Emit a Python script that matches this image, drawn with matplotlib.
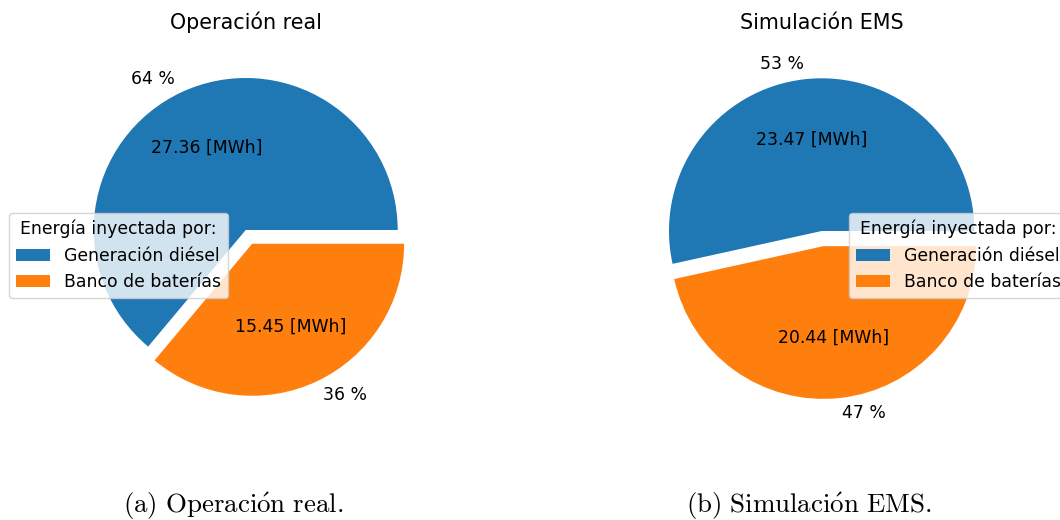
import matplotlib
matplotlib.use("Agg")
import matplotlib.pyplot as plt

# Energy injected [MWh] by source
sources = ["Generación diésel", "Banco de baterías"]
real_energy = [27.36, 15.45]
ems_energy = [23.47, 20.44]
real_pct_labels = ["64 %", "36 %"]
ems_pct_labels = ["53 %", "47 %"]
titles = ["Operación real", "Simulación EMS"]
captions = [r"$\mathrm{(a)\ Operaci\acute{o}n\ real.}$",
            r"$\mathrm{(b)\ Simulaci\acute{o}n\ EMS.}$"]

colors = ["#1f77b4", "#ff7f0e"]
plt.rcParams["mathtext.fontset"] = "cm"

W, H = 1060, 520
fig = plt.figure(figsize=(W / 100, H / 100), dpi=100)


def px_axes(cx, cy, r):
    half = 1.25 * r
    return fig.add_axes([(cx - half) / W, (H - cy - half) / H, 2 * half / W, 2 * half / H])


def mwh_fmt(values):
    total = sum(values)
    return lambda p: f"{p * total / 100:.2f} [MWh]"


axes_specs = [
    (245.7, 230.0, 152.0, real_energy, real_pct_labels, 9),
    (821.7, 231.0, 152.7, ems_energy, ems_pct_labels, 849),
]

fs = 12.4
for i, (cx, cy, r, vals, lbls, leg_x) in enumerate(axes_specs):
    ax = px_axes(cx, cy, r)
    wedges, texts, autotexts = ax.pie(
        vals, labels=lbls, colors=colors, explode=[0, 0.1],
        autopct=mwh_fmt(vals), startangle=0,
        textprops={"fontsize": fs},
    )
    ax.set_title(titles[i], fontsize=14.9, pad=8)
    leg = fig.legend(wedges, sources, title="Energía inyectada por:",
                     loc="center left", fontsize=fs, title_fontsize=fs,
                     bbox_to_anchor=(leg_x / W, 1 - 255.5 / H),
                     bbox_transform=fig.transFigure, borderaxespad=0)

for x, cap in zip([233.5, 809.0], captions):
    fig.text(x / W, 1 - 506 / H, cap, ha="center", va="center", fontsize=19.4)

fig.savefig("out.png", dpi=100)
